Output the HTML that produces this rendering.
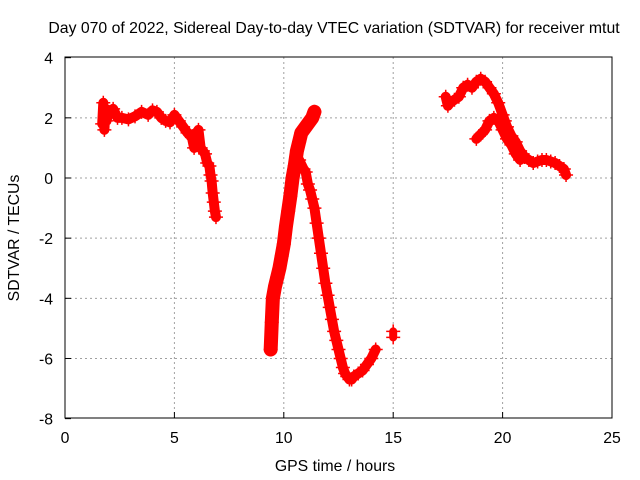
<!DOCTYPE html>
<html><head><meta charset="utf-8"><style>
body{margin:0;background:#fff;}
svg{display:block;font-family:"Liberation Sans",sans-serif;}
</style></head><body>
<svg id="chart" width="640" height="480">
<text x="334" y="33" font-size="15.8" text-anchor="middle">Day 070 of 2022, Sidereal Day-to-day VTEC variation (SDTVAR) for receiver mtut</text>
<text x="335" y="471" font-size="15.8" text-anchor="middle">GPS time / hours</text>
<text transform="translate(19,238) rotate(-90)" font-size="15.8" text-anchor="middle">SDTVAR / TECUs</text>
<g id="grid"></g><g id="marks"></g>
<rect x="65" y="57" width="547" height="361" fill="none" stroke="#000" stroke-width="1"/>
</svg>
<script>
const xTicks=[0,5,10,15,20,25];
const yTicks=[-8,-6,-4,-2,0,2,4];
const seg1X=[1.7,1.75,1.8,1.85,1.9,2.0,2.2,2.4,2.6,2.9,3.2,3.5,3.8,4.0,4.2,4.4,4.6,4.8,5.0,5.2,5.4,5.6,5.8,5.9,6.0,6.1,6.2,6.3,6.4,6.5,6.6,6.65,6.7,6.75,6.8,6.85,6.9];
const seg1Y=[1.8,2.5,1.6,2.3,1.9,2.2,2.3,2.0,2.0,1.95,2.05,2.2,2.1,2.25,2.2,2.0,1.9,1.85,2.1,1.9,1.7,1.5,1.35,1.0,1.5,1.6,1.0,0.9,0.8,0.5,0.4,0.1,-0.1,-0.5,-0.8,-1.1,-1.3];
const seg2X=[9.4,9.45,9.5,9.6,9.7,9.8,9.9,10.0,10.1,10.2,10.3,10.4,10.5,10.6,10.7,10.8,10.9,11.0,11.1,11.2,11.3,11.4];
const seg2Y=[-5.7,-4.8,-4.0,-3.6,-3.3,-3.0,-2.6,-2.2,-1.6,-1.1,-0.6,0.0,0.4,0.9,1.2,1.5,1.6,1.7,1.8,1.9,2.0,2.2];
const seg3X=[10.5,10.7,10.9,11.0,11.1,11.2,11.3,11.4,11.5,11.6,11.7,11.8,11.9,12.0,12.1,12.2,12.3,12.4,12.5,12.6,12.7,12.8,12.9,13.0,13.1,13.2,13.4,13.6,13.8,14.0,14.2];
const seg3Y=[0.2,0.6,0.3,0.2,-0.2,-0.4,-0.7,-1.0,-1.5,-2.0,-2.5,-3.0,-3.5,-3.9,-4.3,-4.7,-5.1,-5.4,-5.7,-6.0,-6.3,-6.5,-6.6,-6.7,-6.7,-6.6,-6.5,-6.4,-6.2,-6.0,-5.7];
const seg4X=[15.0,15.0];
const seg4Y=[-5.1,-5.3];
const seg5X=[17.4,17.5,17.6,17.8,18.0,18.2,18.4,18.6,18.8,19.0,19.2,19.4,19.6,19.8,20.0,20.1,20.2,20.4,20.6,20.8,21.0,21.2,21.4,21.6,21.8,22.0,22.2,22.4,22.6,22.8,22.9];
const seg5Y=[2.7,2.4,2.5,2.6,2.7,3.0,3.1,3.0,3.2,3.3,3.2,3.0,2.8,2.5,2.1,1.9,1.7,1.4,1.2,0.9,0.7,0.6,0.5,0.55,0.6,0.6,0.55,0.5,0.4,0.3,0.1];
const seg6X=[18.8,19.0,19.2,19.4,19.6,19.8,20.0,20.2,20.4,20.6,20.8];
const seg6Y=[1.3,1.45,1.6,1.9,2.0,1.9,1.6,1.3,1.1,0.8,0.6];
const X=v=>65+v*547/25, Y=v=>178-v*30.08;
const NS="http://www.w3.org/2000/svg";
const grid=document.getElementById('grid'), marks=document.getElementById('marks');
function mk(t,a,p){const e=document.createElementNS(NS,t);for(const k in a)e.setAttribute(k,a[k]);p.appendChild(e);return e;}
xTicks.forEach(v=>{
 if(v>0&&v<25){const g=mk('line',{x1:X(v),x2:X(v),y1:57,y2:418,stroke:'#a0a0a0','stroke-dasharray':'2,3'},grid);
 
 }
 const tk=mk('line',{x1:X(v),x2:X(v),y1:418,y2:412,stroke:'#000'},grid);
 
 
 const t=mk('text',{x:X(v),y:443,'font-size':15.8,'text-anchor':'middle'},grid);t.textContent=v;
 
 
});
yTicks.forEach(v=>{
 if(v>-8&&v<4){const g=mk('line',{x1:65,x2:612,y1:Y(v),y2:Y(v),stroke:'#a0a0a0','stroke-dasharray':'2,3'},grid);
 
 }
 const tk=mk('line',{x1:65,x2:71,y1:Y(v),y2:Y(v),stroke:'#000'},grid);
 
 
 const t=mk('text',{x:53,y:Y(v)+6,'font-size':15.8,'text-anchor':'end'},grid);t.textContent=v;
 
 
});
const widths=[10,14,10,8,10,10];
[[seg1X,seg1Y],[seg2X,seg2Y],[seg3X,seg3Y],[seg4X,seg4Y],[seg5X,seg5Y],[seg6X,seg6Y]].forEach(([xs,ys],i)=>{
 const pts=xs.map((x,j)=>X(x)+','+Y(ys[j])).join(' ');
 const pl=mk('polyline',{points:pts,fill:'none',stroke:'#f00','stroke-width':widths[i],'stroke-linejoin':'round','stroke-linecap':'round'},marks);
 
 
 xs.forEach((x,j)=>{
  const p=mk('path',{d:`M${X(x)-7},${Y(ys[j])}h14M${X(x)},${Y(ys[j])-7}v14`,stroke:'#f00','stroke-width':1.5},marks);
  
  
 });
});
</script>
</body></html>
